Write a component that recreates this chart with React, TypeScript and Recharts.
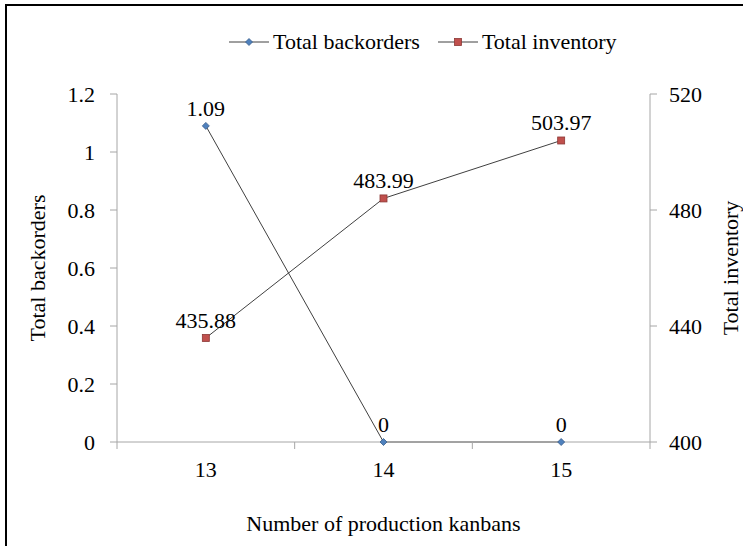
import React from 'react';
import { LineChart, Line, XAxis, YAxis, LabelList } from 'recharts';

const categories = [13, 14, 15];
const backorders = [1.09, 0, 0];
const inventory = [435.88, 483.99, 503.97];
const leftTicks = [0, 0.2, 0.4, 0.6, 0.8, 1, 1.2];
const rightTicks = [400, 440, 480, 520];
const xTicks = [12.5, 13, 13.5, 14, 14.5, 15, 15.5];

const data = categories.map((c, i) => ({ kanbans: c, backorders: backorders[i], inventory: inventory[i] }));

const FONT = 'Liberation Serif, serif';
const FS = 22;
const AXIS = '#a6a6a6';
const LINE = '#404040';

const Diamond = (props: any) => {
  const { cx, cy } = props;
  if (cx == null || cy == null) return null;
  const s = 3.5;
  return <polygon points={`${cx},${cy - s} ${cx + s},${cy} ${cx},${cy + s} ${cx - s},${cy}`} fill="#4f81bd" stroke="#385d8a" strokeWidth={0.8} />;
};
const Square = (props: any) => {
  const { cx, cy } = props;
  if (cx == null || cy == null) return null;
  return <rect x={cx - 3.5} y={cy - 3.5} width={7} height={7} fill="#c0504d" stroke="#8c3836" strokeWidth={0.8} />;
};

const XTick = (props: any) => {
  const { x, y, payload } = props;
  const v = payload.value;
  if (Number.isInteger(v)) {
    return <text x={x} y={y + 35} textAnchor="middle" fontSize={FS} fill="#000">{v}</text>;
  }
  return <line x1={x} x2={x} y1={y} y2={y + 7} stroke={AXIS} strokeWidth={1} />;
};

const RightTick = (props: any) => {
  const { x, y, payload } = props;
  return <text x={x} y={y} dy="0.355em" textAnchor="start" fontSize={FS} fill="#000">{payload.value}</text>;
};

const LegendIcon = ({ kind }: { kind: 'diamond' | 'square' }) => (
  <svg width={40} height={12} style={{ display: 'block' }}>
    <line x1={0} x2={40} y1={6} y2={6} stroke={LINE} strokeWidth={1} />
    {kind === 'diamond' ? <Diamond cx={20} cy={6} /> : <Square cx={20} cy={6} />}
  </svg>
);

export default function App() {
  const labelStyle = { fontSize: FS, fill: '#000' };
  return (
    <div style={{ position: 'absolute', left: 0, top: 0, width: 743, height: 546, background: '#fff', fontFamily: FONT }}>
      <style>{`.chartwrap svg text, .chartwrap svg tspan { font-family: 'Liberation Serif', serif !important; }`}</style>
      <div style={{ position: 'absolute', left: 5, top: 4, width: 738, height: 542, borderLeft: '2px solid #000', borderTop: '2px solid #000', boxSizing: 'border-box' }} />
      <div style={{ position: 'absolute', left: 229, top: 29, display: 'flex', alignItems: 'center', fontSize: FS, color: '#000', whiteSpace: 'nowrap' }}>
        <LegendIcon kind="diamond" />
        <span style={{ marginLeft: 4 }}>Total backorders</span>
        <span style={{ width: 18 }} />
        <LegendIcon kind="square" />
        <span style={{ marginLeft: 4 }}>Total inventory</span>
      </div>
      <div className="chartwrap" style={{ position: 'absolute', left: 0, top: 0 }}>
        <LineChart width={743} height={546} data={data} margin={{ top: 94, right: 0, bottom: 0, left: 0 }}>
          <XAxis
            dataKey="kanbans"
            type="number"
            domain={[12.5, 15.5]}
            ticks={xTicks}
            interval={0}
            tickLine={false}
            tickSize={0}
            tickMargin={0}
            tick={<XTick />}
            height={104}
            axisLine={{ stroke: AXIS }}
            label={{ value: 'Number of production kanbans', position: 'insideBottom', offset: 15, style: labelStyle }}
          />
          <YAxis
            yAxisId="left"
            orientation="left"
            width={117}
            domain={[0, 1.2]}
            ticks={leftTicks}
            interval={0}
            tickSize={7}
            tickMargin={15}
            axisLine={{ stroke: AXIS }}
            tickLine={{ stroke: AXIS }}
            tick={{ fontSize: FS, fill: '#000' }}
            label={{ value: 'Total backorders', angle: -90, position: 'insideLeft', offset: 37, style: { ...labelStyle, textAnchor: 'middle' } }}
          />
          <YAxis
            yAxisId="right"
            orientation="right"
            width={93}
            domain={[400, 520]}
            ticks={rightTicks}
            interval={0}
            tickSize={7}
            tickMargin={12}
            axisLine={{ stroke: AXIS }}
            tickLine={{ stroke: AXIS }}
            tick={<RightTick />}
            label={{ value: 'Total inventory', angle: -90, position: 'insideRight', offset: 13, style: { ...labelStyle, textAnchor: 'middle' } }}
          />
          <Line yAxisId="left" dataKey="backorders" stroke={LINE} strokeWidth={1} dot={<Diamond />} activeDot={false} isAnimationActive={false}>
            <LabelList dataKey="backorders" position="top" offset={10} style={labelStyle} />
          </Line>
          <Line yAxisId="right" dataKey="inventory" stroke={LINE} strokeWidth={1} dot={<Square />} activeDot={false} isAnimationActive={false}>
            <LabelList dataKey="inventory" position="top" offset={10} style={labelStyle} />
          </Line>
        </LineChart>
      </div>
    </div>
  );
}
